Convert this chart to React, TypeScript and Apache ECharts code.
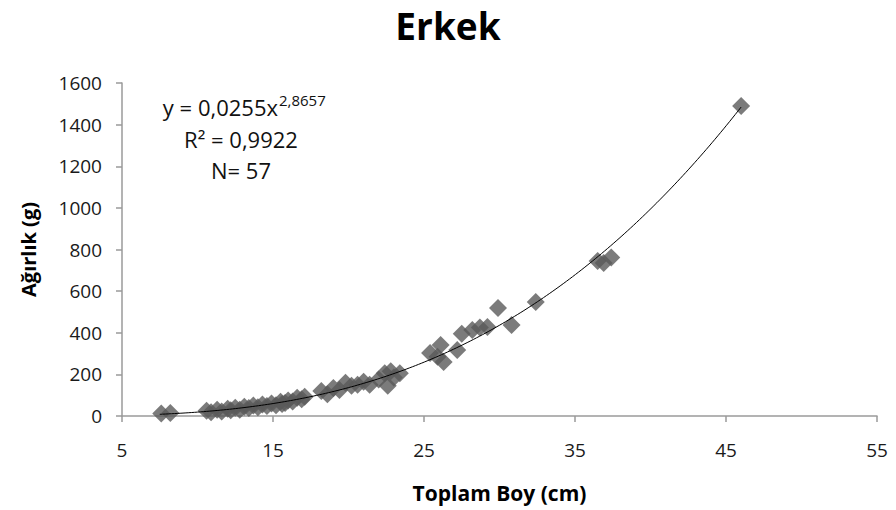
import React, { useEffect, useRef } from "react";
import * as echarts from "echarts";

// Total length (cm) and weight (g) of male specimens
const lengths: number[] = [
  7.6, 8.2,
  10.6, 10.9, 11.3, 11.6, 12.0, 12.2, 12.5, 12.8, 13.1, 13.4, 13.7, 14.0,
  14.3, 14.6, 14.9, 15.2, 15.5, 15.6, 15.8, 16.0, 16.3, 16.6, 16.9, 17.1,
  18.2, 18.6, 19.0, 19.4, 19.8, 20.2, 20.6, 21.0, 21.4, 22.0, 22.4, 22.6,
  22.8, 23.0, 23.4,
  25.4, 25.9, 26.1, 26.3, 27.2, 27.5, 28.2, 28.7, 29.2, 29.9, 30.8,
  32.4, 36.5, 36.9, 37.4, 46.0,
];
const weights: number[] = [
  12, 15,
  25, 18, 30, 22, 35, 28, 40, 30, 45, 38, 50, 42,
  55, 48, 60, 52, 68, 58, 62, 75, 70, 88, 80, 92,
  120, 105, 135, 125, 160, 145, 150, 165, 150, 175, 205, 145,
  215, 185, 205,
  303, 285, 341, 260, 317, 395, 413, 425, 428, 519, 437,
  548, 745, 735, 762, 1490,
];

// Power-law fit W = a * L^b
const fitA = 0.0255;
const fitB = 2.8657;
const fitR2 = "0,9922";
const fitFrom = 7.5;
const fitTo = 46;

const xTicks = [5, 15, 25, 35, 45, 55];
const yTicks = [0, 200, 400, 600, 800, 1000, 1200, 1400, 1600];

const FONT = "'Open Sans', 'Liberation Sans', sans-serif";
const comma = (v: number) => String(v).replace(".", ",");

export default function App() {
  const ref = useRef<HTMLDivElement>(null);

  useEffect(() => {
    if (!ref.current) return;
    document.body.style.margin = "0";
    const chart = echarts.init(ref.current, undefined, { renderer: "svg" });

    const points = lengths.map((l, i) => [l, weights[i]]);
    const fitLine: number[][] = [];
    const steps = 200;
    for (let i = 0; i <= steps; i++) {
      const x = fitFrom + ((fitTo - fitFrom) * i) / steps;
      fitLine.push([x, fitA * Math.pow(x, fitB)]);
    }

    const axisColor = "#9a9a9a";
    const labelColor = "#1a1a1a";

    chart.setOption({
      animation: false,
      backgroundColor: "#ffffff",
      grid: { left: 122, right: 19, top: 83, bottom: 94 },
      xAxis: {
        type: "value",
        min: xTicks[0],
        max: xTicks[xTicks.length - 1],
        interval: 10,
        name: "Toplam Boy (cm)",
        nameLocation: "middle",
        nameGap: 66,
        nameTextStyle: {
          fontFamily: FONT,
          fontWeight: "bold",
          fontSize: 21,
          color: "#000",
        },
        splitLine: { show: false },
        axisLine: { show: true, lineStyle: { color: axisColor, width: 1.5 } },
        axisTick: { show: true, length: 6, lineStyle: { color: axisColor, width: 1.5 } },
        axisLabel: {
          fontFamily: FONT,
          fontSize: 19,
          color: labelColor,
          margin: 24,
          formatter: (v: number) => String(v),
        },
      },
      yAxis: {
        type: "value",
        min: yTicks[0],
        max: yTicks[yTicks.length - 1],
        interval: 200,
        name: "Ağırlık (g)",
        nameLocation: "middle",
        nameGap: 84,
        nameRotate: 90,
        nameTextStyle: {
          fontFamily: FONT,
          fontWeight: "bold",
          fontSize: 20,
          color: "#000",
        },
        splitLine: { show: false },
        axisLine: { show: true, lineStyle: { color: axisColor, width: 1.5 } },
        axisTick: { show: true, length: 6, lineStyle: { color: axisColor, width: 1.5 } },
        axisLabel: {
          fontFamily: FONT,
          fontSize: 19,
          color: labelColor,
          margin: 20,
          formatter: (v: number) => String(v),
        },
      },
      graphic: [
        {
          // chart title
          type: "text",
          x: 448,
          y: 25,
          style: {
            text: "Erkek",
            fontFamily: FONT,
            fontWeight: "bold",
            fontSize: 37,
            fill: "#000",
            align: "center",
            verticalAlign: "middle",
          },
        },
        {
          type: "text",
          x: 278,
          y: 107,
          style: {
            text: `y = ${comma(fitA)}x`,
            fontFamily: FONT,
            fontSize: 22,
            fill: "#111",
            align: "right",
            verticalAlign: "middle",
          },
        },
        {
          type: "text",
          x: 279,
          y: 100,
          style: {
            text: comma(fitB),
            fontFamily: FONT,
            fontSize: 15,
            fill: "#111",
            align: "left",
            verticalAlign: "middle",
          },
        },
        {
          type: "text",
          x: 241,
          y: 139,
          style: {
            text: `R² = ${fitR2}`,
            fontFamily: FONT,
            fontSize: 22,
            fill: "#111",
            align: "center",
            verticalAlign: "middle",
          },
        },
        {
          type: "text",
          x: 241,
          y: 170,
          style: {
            text: `N= ${lengths.length}`,
            fontFamily: FONT,
            fontSize: 22,
            fill: "#111",
            align: "center",
            verticalAlign: "middle",
          },
        },
      ],
      series: [
        {
          type: "scatter",
          data: points,
          symbol: "diamond",
          symbolSize: [18, 18],
          itemStyle: { color: "#5a5a5a" },
          z: 2,
        },
        {
          type: "line",
          data: fitLine,
          showSymbol: false,
          smooth: false,
          lineStyle: { color: "#000", width: 1 },
          z: 3,
        },
      ],
    });

    return () => chart.dispose();
  }, []);

  return <div ref={ref} style={{ width: 896, height: 510 }} />;
}
